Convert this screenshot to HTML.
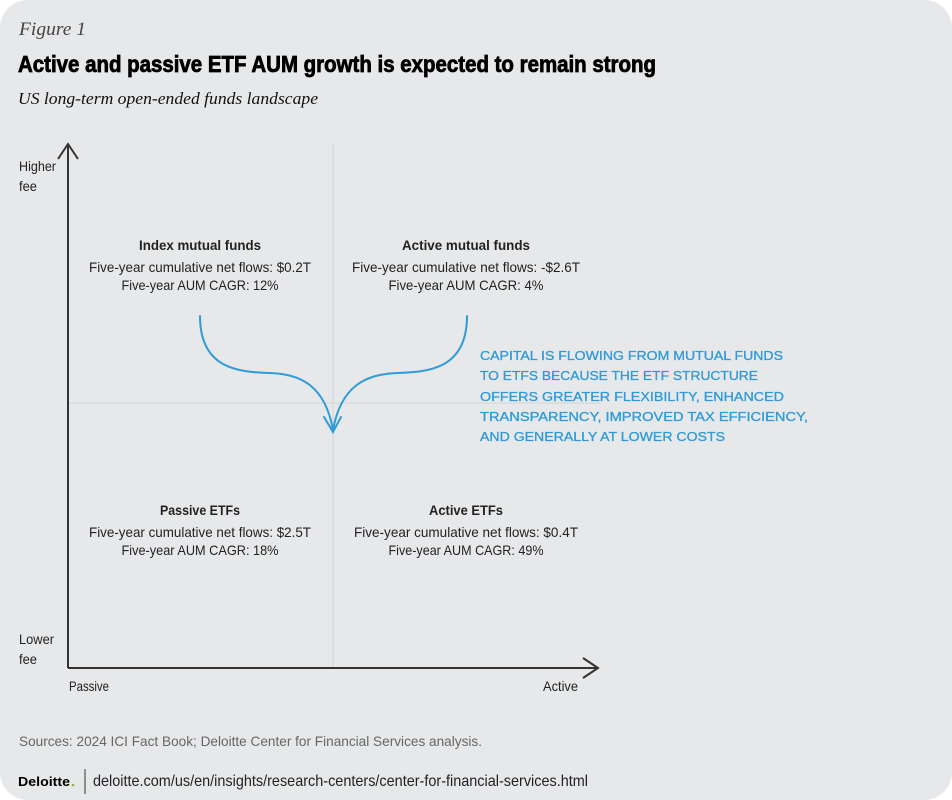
<!DOCTYPE html>
<html><head><meta charset="utf-8"><style>
html,body{margin:0;padding:0;background:#fff;}
svg{display:block;}
</style></head><body>
<svg width="952" height="800" viewBox="0 0 952 800" xmlns="http://www.w3.org/2000/svg">
<rect x="0" y="0" width="952" height="800" rx="28" fill="#e7e8ea"/>
<text x="19" y="35" font-family="Liberation Serif" font-style="italic" font-size="19" fill="#444" textLength="67" lengthAdjust="spacingAndGlyphs">Figure 1</text>
<text x="18" y="72" font-family="Liberation Sans" font-weight="bold" font-size="23" fill="#000" textLength="638" lengthAdjust="spacingAndGlyphs" stroke="#000" stroke-width="0.8">Active and passive ETF AUM growth is expected to remain strong</text>
<text x="18" y="104" font-family="Liberation Serif" font-style="italic" font-size="17" fill="#111" textLength="300" lengthAdjust="spacingAndGlyphs">US long-term open-ended funds landscape</text>

<line x1="333" y1="143" x2="333" y2="668" stroke="#d9dadc" stroke-width="1.5"/>
<line x1="68" y1="403" x2="600" y2="403" stroke="#d9dadc" stroke-width="1.5"/>
<path d="M68 668 V145 M58 159 L68 144 L78 159" fill="none" stroke="#333" stroke-width="2"/>
<path d="M68 668 H597 M583 658 L598 668 L583 678" fill="none" stroke="#333" stroke-width="2"/>

<g font-family="Liberation Sans" font-size="14" fill="#222">
<text x="19" y="171" textLength="37" lengthAdjust="spacingAndGlyphs">Higher</text>
<text x="19" y="191" textLength="18" lengthAdjust="spacingAndGlyphs">fee</text>
<text x="19" y="644" textLength="35" lengthAdjust="spacingAndGlyphs">Lower</text>
<text x="19" y="664" textLength="18" lengthAdjust="spacingAndGlyphs">fee</text>
<text x="69" y="691" textLength="40" lengthAdjust="spacingAndGlyphs">Passive</text>
<text x="543" y="691" textLength="35" lengthAdjust="spacingAndGlyphs">Active</text>
</g>

<g font-family="Liberation Sans" font-size="14" fill="#222" text-anchor="middle">
<text x="200" y="250" font-weight="bold" textLength="122" lengthAdjust="spacingAndGlyphs">Index mutual funds</text>
<text x="200" y="272" textLength="222" lengthAdjust="spacingAndGlyphs">Five-year cumulative net flows: $0.2T</text>
<text x="200" y="290" textLength="157" lengthAdjust="spacingAndGlyphs">Five-year AUM CAGR: 12%</text>
<text x="466" y="250" font-weight="bold" textLength="128" lengthAdjust="spacingAndGlyphs">Active mutual funds</text>
<text x="466" y="272" textLength="228" lengthAdjust="spacingAndGlyphs">Five-year cumulative net flows: -$2.6T</text>
<text x="466" y="290" textLength="155" lengthAdjust="spacingAndGlyphs">Five-year AUM CAGR: 4%</text>
<text x="200" y="515" font-weight="bold" textLength="80" lengthAdjust="spacingAndGlyphs">Passive ETFs</text>
<text x="200" y="537" textLength="222" lengthAdjust="spacingAndGlyphs">Five-year cumulative net flows: $2.5T</text>
<text x="200" y="555" textLength="157" lengthAdjust="spacingAndGlyphs">Five-year AUM CAGR: 18%</text>
<text x="466" y="515" font-weight="bold" textLength="74" lengthAdjust="spacingAndGlyphs">Active ETFs</text>
<text x="466" y="537" textLength="224" lengthAdjust="spacingAndGlyphs">Five-year cumulative net flows: $0.4T</text>
<text x="466" y="555" textLength="155" lengthAdjust="spacingAndGlyphs">Five-year AUM CAGR: 49%</text>
</g>

<g fill="none" stroke="#2f9bd8" stroke-width="2" stroke-linecap="round">
<path d="M200 316 C200 370 240 372 270 373 C300 374 325 385 333 430"/>
<path d="M467 316 C467 370 427 372 397 373 C367 374 341 385 333 430"/>
<path d="M324 417 L333 432 L341 417"/>
</g>
<g font-family="Liberation Sans" font-size="12.5" fill="#2f9bd8" stroke="#2f9bd8" stroke-width="0.3">
<text x="480" y="360" textLength="303" lengthAdjust="spacingAndGlyphs">CAPITAL IS FLOWING FROM MUTUAL FUNDS</text>
<text x="480" y="380" textLength="278" lengthAdjust="spacingAndGlyphs">TO ETFS BECAUSE THE ETF STRUCTURE</text>
<text x="480" y="401" textLength="304" lengthAdjust="spacingAndGlyphs">OFFERS GREATER FLEXIBILITY, ENHANCED</text>
<text x="480" y="421" textLength="328" lengthAdjust="spacingAndGlyphs">TRANSPARENCY, IMPROVED TAX EFFICIENCY,</text>
<text x="480" y="441" textLength="245" lengthAdjust="spacingAndGlyphs">AND GENERALLY AT LOWER COSTS</text>
</g>

<text x="19" y="746" font-family="Liberation Sans" font-size="14" fill="#666" textLength="463" lengthAdjust="spacingAndGlyphs">Sources: 2024 ICI Fact Book; Deloitte Center for Financial Services analysis.</text>
<text x="18" y="786" font-family="Liberation Sans" font-weight="bold" font-size="13" fill="#000" textLength="52" lengthAdjust="spacingAndGlyphs">Deloitte</text>
<circle cx="73" cy="785" r="1.3" fill="#86bc25"/>
<line x1="85" y1="769" x2="85" y2="794" stroke="#333" stroke-width="1"/>
<text x="93" y="786" font-family="Liberation Sans" font-size="16" fill="#222" textLength="495" lengthAdjust="spacingAndGlyphs">deloitte.com/us/en/insights/research-centers/center-for-financial-services.html</text>
</svg>
</body></html>
